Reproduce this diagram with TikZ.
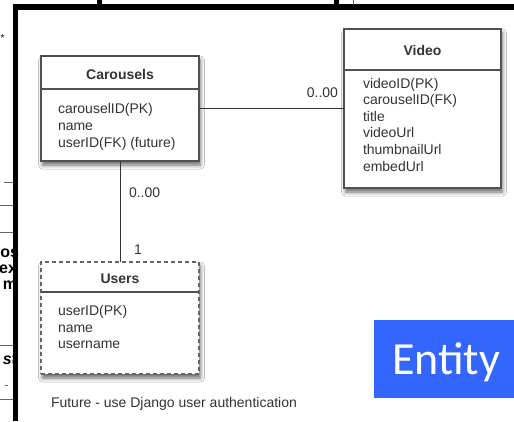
\documentclass[tikz,border=0pt]{standalone}
\usepackage{fontspec}
\setmainfont{Liberation Sans}
\newfontfamily\carlito{Carlito}
\usetikzlibrary{shadows.blur}
\definecolor{ink}{HTML}{333333}
\definecolor{edgegray}{HTML}{505050}
\definecolor{dashgray}{HTML}{666666}
\definecolor{entityblue}{HTML}{3366FF}
\definecolor{fraggray}{HTML}{666666}
\begin{document}
\begin{tikzpicture}[x=1pt,y=-1pt,
  every node/.style={inner sep=0pt, outer sep=0pt, text=ink, font=\fontsize{14}{17}\selectfont},
  entitybox/.style={draw=edgegray, line width=1.1pt, fill=white, anchor=north west,
    blur shadow={shadow xshift=1.5pt, shadow yshift=-4pt, shadow blur radius=4pt, shadow opacity=60}},
  headline/.style={draw=edgegray, line width=1.1pt},
  boxtitle/.style={anchor=base, font=\fontsize{14}{17}\selectfont\bfseries},
  attr/.style={anchor=base west},
  conn/.style={draw=ink, line width=0.9pt},
  mult/.style={anchor=base west},
  fragline/.style={draw=fraggray, line width=0.8pt},
  fragtext/.style={anchor=base east, text=black, font=\fontsize{16}{16}\selectfont\bfseries}
]
\useasboundingbox (0,0) rectangle (514,421);
\fill[white] (0,0) rectangle (514,421);

% slide fragments on the left
\node[anchor=base, text=black, font=\fontsize{10}{12}\selectfont] (star) at (2.5,41) {*};
\draw[fragline] (4,182) -- (13,182);
\draw[fragline] (0,205) -- (13,205);
\draw[fragline] (0,232) -- (13,232);
\node[fragtext, anchor=base west] (fos) at (0.3,257) {os};
\node[fragtext] (fex) at (17,273) {ex};
\node[fragtext] (fm) at (17,289) {m};
\draw[fragline] (0,345) -- (13,345);
\node[fragtext, font=\fontsize{16}{16}\selectfont\bfseries\itshape] (fst) at (17,364) {st};
\draw[fragline] (5,385) -- (8,385);
\draw[fragline] (0,399) -- (13,399);

% frame of the screenshot (thick black bars)
\fill[black] (12.5,4) rectangle (18,421);
\fill[black] (12.5,4) rectangle (514,9.5);
\fill[black] (97,0) rectangle (102,6);
\fill[black] (334,0) rectangle (338.5,6);
\draw[fragline] (353,0) -- (353,5);

% entity boxes
\node[entitybox, minimum width=158pt, minimum height=105pt] (car) at (41,56) {};
\node[entitybox, minimum width=157pt, minimum height=159pt] (vid) at (344,29) {};
\node[entitybox, draw=dashgray, dashed, dash pattern=on 4pt off 3pt, minimum width=158pt, minimum height=112pt] (usr) at (41,262) {};

\draw[headline] ([yshift=-33pt]car.north west) -- ([yshift=-33pt]car.north east);
\draw[headline] ([yshift=-41pt]vid.north west) -- ([yshift=-41pt]vid.north east);
\draw[headline] ([yshift=-30pt]usr.north west) -- ([yshift=-30pt]usr.north east);

\node[boxtitle] (cart) at (120,79) {Carousels};
\node[boxtitle] (vidt) at (422.5,55.5) {Video};
\node[boxtitle] (usrt) at (120,283) {Users};

\foreach \t [count=\i] in {carouselID(PK), name, userID(FK) (future)}
  \node[attr] (ca\i) at (58,96+17*\i) {\t};
\foreach \t [count=\i] in {videoID(PK), carouselID(FK), title, videoUrl, thumbnailUrl, embedUrl}
  \node[attr] (va\i) at (363,71.5+16.6*\i) {\t};
\foreach \t [count=\i] in {userID(PK), name, username}
  \node[attr] (ua\i) at (58,299+16.5*\i) {\t};

% connectors
\draw[conn] (car) -- (vid);
\draw[conn] (car) -- (usr);
\node[anchor=base east] (m1) at (338,97) {0..00};
\node[mult] (m2) at (129,197) {0..00};
\node[mult] (m3) at (134,254) {1};

\node[attr] (note) at (51,407) {Future - use Django user authentication};

% Entity label
\node[fill=entityblue, anchor=north west, minimum width=140pt, minimum height=78pt] (entbox) at (374,320) {};
\node[anchor=base west, text=white, font=\carlito\fontsize{46}{50}\selectfont] (ent) at (392,374) {Entity};
\end{tikzpicture}
\end{document}
